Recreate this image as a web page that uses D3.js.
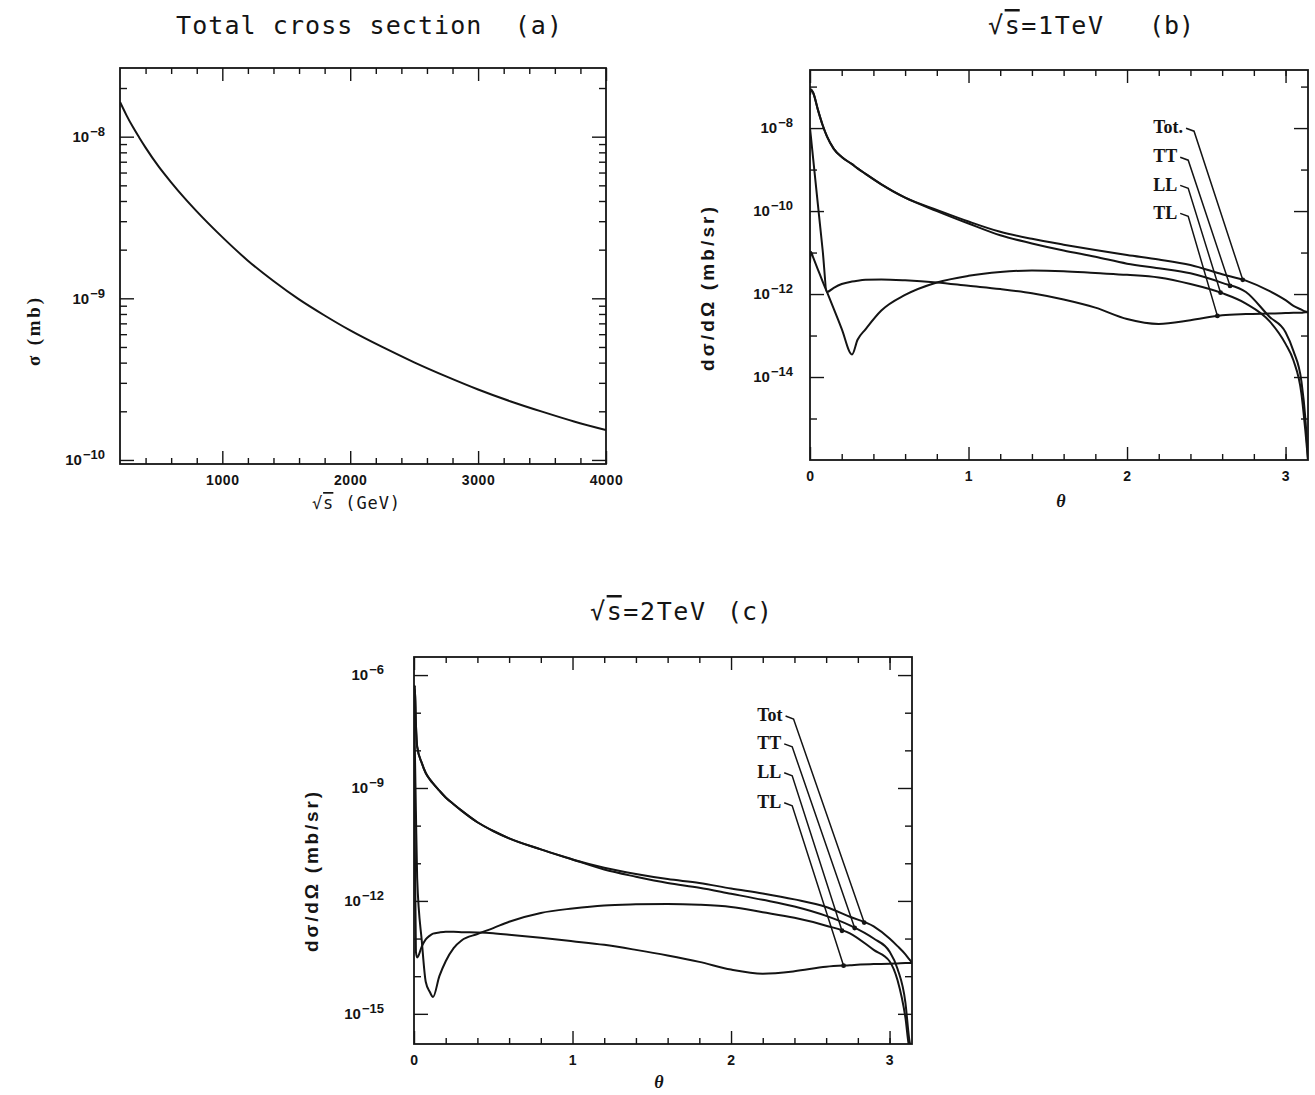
<!DOCTYPE html>
<html>
<head>
<meta charset="utf-8">
<script src="https://cdn.jsdelivr.net/npm/d3@7"></script>
<style>
  body { margin: 0; background: #fff; }
</style>
</head>
<body>
<svg id="fig" width="1315" height="1095"></svg>
<script>
// ---- (a) total cross section vs sqrt(s) ----
const sqrtS = [200, 250, 300, 350, 400, 500, 600, 700, 800, 1000, 1200, 1400, 1600, 1800, 2000, 2250, 2500, 2750, 3000, 3250, 3500, 3750, 4000];
const sigmaTot = [1.64e-8, 1.36e-8, 1.15e-8, 9.89e-9, 8.56e-9, 6.57e-9, 5.22e-9, 4.21e-9, 3.45e-9, 2.39e-9, 1.71e-9, 1.28e-9, 9.85e-10, 7.83e-10, 6.33e-10, 5.00e-10, 4.02e-10, 3.29e-10, 2.73e-10, 2.31e-10, 1.99e-10, 1.73e-10, 1.53e-10];

// ---- (b) dsigma/dOmega at sqrt(s) = 1 TeV ----
const thetaB = [0, 0.005, 0.02, 0.05, 0.08, 0.107, 0.15, 0.2, 0.265, 0.3, 0.35, 0.45, 0.6, 0.8, 1.0, 1.2, 1.4, 1.6, 1.8, 2.0, 2.2, 2.4, 2.6, 2.75, 2.9, 3.0, 3.05, 3.1, 3.125, 3.1416];
const totB = [6.3e-8, 8.5e-8, 7.1e-8, 2.75e-8, 1.17e-8, 6.3e-9, 3.16e-9, 2.0e-9, 1.35e-9, 1.07e-9, 7.9e-10, 4.4e-10, 2.1e-10, 1.07e-10, 5.6e-11, 3.16e-11, 2.14e-11, 1.55e-11, 1.15e-11, 8.7e-12, 6.8e-12, 5.0e-12, 3.0e-12, 2.1e-12, 1.17e-12, 7.1e-13, 5.2e-13, 4.2e-13, 3.8e-13, 3.7e-13];
const ttB = [6.3e-8, 8.5e-8, 7.1e-8, 2.75e-8, 1.17e-8, 6.3e-9, 3.16e-9, 2.0e-9, 1.35e-9, 1.07e-9, 7.9e-10, 4.4e-10, 2.1e-10, 1.0e-10, 5.0e-11, 2.6e-11, 1.66e-11, 1.12e-11, 7.9e-12, 5.4e-12, 4.2e-12, 3.16e-12, 1.86e-12, 1.12e-12, 2.8e-13, 1.2e-13, 4.2e-14, 7.9e-15, 1.0e-15, 1e-16];
const llB = [5.6e-12, 1.05e-11, 7.6e-12, 3.9e-12, 2.0e-12, 1.12e-12, 4.4e-13, 1.45e-13, 3.5e-14, 7.9e-14, 1.41e-13, 4.0e-13, 9.5e-13, 1.9e-12, 2.75e-12, 3.4e-12, 3.7e-12, 3.55e-12, 3.2e-12, 2.9e-12, 2.5e-12, 1.74e-12, 1.05e-12, 5.9e-13, 2.2e-13, 6.3e-14, 2.5e-14, 4.0e-15, 5.0e-16, 1e-16];
const tlB = [1.0e-8, 6.6e-9, 1.82e-9, 1.41e-10, 1.12e-11, 1.12e-12, 1.41e-12, 1.74e-12, 2.0e-12, 2.1e-12, 2.2e-12, 2.24e-12, 2.14e-12, 1.9e-12, 1.58e-12, 1.32e-12, 1.05e-12, 7.4e-13, 4.7e-13, 2.5e-13, 1.9e-13, 2.34e-13, 3.1e-13, 3.3e-13, 3.4e-13, 3.47e-13, 3.55e-13, 3.55e-13, 3.63e-13, 3.63e-13];

// ---- (c) dsigma/dOmega at sqrt(s) = 2 TeV ----
const thetaC = [0, 0.005, 0.012, 0.02, 0.05, 0.074, 0.1, 0.12, 0.16, 0.2, 0.25, 0.3, 0.4, 0.5, 0.6, 0.8, 1.0, 1.2, 1.4, 1.6, 1.8, 2.0, 2.2, 2.4, 2.6, 2.75, 2.9, 3.0, 3.05, 3.1, 3.125, 3.1416];
const totC = [1.26e-7, 5.2e-7, 5.0e-8, 1.26e-8, 4.5e-9, 2.5e-9, 1.7e-9, 1.32e-9, 8.5e-10, 5.6e-10, 3.7e-10, 2.5e-10, 1.23e-10, 7.2e-11, 4.6e-11, 2.34e-11, 1.26e-11, 7.6e-12, 5.2e-12, 3.8e-12, 3.0e-12, 2.14e-12, 1.58e-12, 1.1e-12, 6.9e-13, 3.8e-13, 2.1e-13, 1.0e-13, 6.3e-14, 3.8e-14, 2.8e-14, 2.3e-14];
const ttC = [1.26e-7, 5.2e-7, 5.0e-8, 1.26e-8, 4.5e-9, 2.5e-9, 1.7e-9, 1.32e-9, 8.5e-10, 5.6e-10, 3.7e-10, 2.5e-10, 1.23e-10, 7.2e-11, 4.6e-11, 2.34e-11, 1.26e-11, 6.8e-12, 4.4e-12, 3.0e-12, 2.24e-12, 1.55e-12, 1.07e-12, 7.1e-13, 4.0e-13, 2.24e-13, 1.0e-13, 4.5e-14, 1.58e-14, 2.0e-15, 2.0e-16, 1e-16];
const llC = [1.26e-7, 1.26e-8, 2.5e-10, 4.0e-12, 7.9e-14, 7.1e-15, 3.8e-15, 2.8e-15, 1.0e-14, 2.5e-14, 5.6e-14, 8.9e-14, 1.32e-13, 1.9e-13, 2.8e-13, 4.8e-13, 6.3e-13, 7.6e-13, 8.1e-13, 8.3e-13, 7.9e-13, 6.9e-13, 5.0e-13, 3.55e-13, 2.2e-13, 1.38e-13, 5.0e-14, 2.5e-14, 7.9e-15, 7.9e-16, 1.26e-16, 1e-16];
const tlC = [1.0e-7, 6.3e-11, 4.5e-14, 3.16e-14, 6.3e-14, 9.5e-14, 1.2e-13, 1.35e-13, 1.45e-13, 1.51e-13, 1.51e-13, 1.48e-13, 1.45e-13, 1.38e-13, 1.26e-13, 1.05e-13, 8.5e-14, 6.8e-14, 5.0e-14, 3.55e-14, 2.4e-14, 1.5e-14, 1.17e-14, 1.35e-14, 1.78e-14, 1.95e-14, 2.1e-14, 2.14e-14, 2.19e-14, 2.24e-14, 2.24e-14, 2.24e-14];

// ---- labels / ticks ----
const seriesNamesB = ["Tot.", "TT", "LL", "TL"];
const seriesNamesC = ["Tot", "TT", "LL", "TL"];
const labelLevelB = [1.05e-8, 2.1e-9, 4.4e-10, 9.3e-11];   // where the names sit
const labelLevelC = [8.7e-8, 1.58e-8, 2.7e-9, 4.3e-10];
const pointAtB = [2.73, 2.65, 2.59, 2.57];                // theta where the leader meets its curve
const pointAtC = [2.84, 2.78, 2.70, 2.71];

const sqrtSTicks = [1000, 2000, 3000, 4000];
const sqrtSMinor = [400, 600, 800, 1200, 1400, 1600, 1800, 2200, 2400, 2600, 2800, 3200, 3400, 3600, 3800];
const sigmaTicks = [1e-8, 1e-9, 1e-10];
const thetaTicks = [0, 1, 2, 3];
const thetaMinor = [0.2, 0.4, 0.6, 0.8, 1.2, 1.4, 1.6, 1.8, 2.2, 2.4, 2.6, 2.8, 3.0];
const dsdoTicksB = [1e-8, 1e-10, 1e-12, 1e-14];
const dsdoMinorB = [1e-7, 1e-9, 1e-11, 1e-13, 1e-15];
const dsdoTicksC = [1e-6, 1e-9, 1e-12, 1e-15];
const dsdoMinorC = [1e-7, 1e-8, 1e-10, 1e-11, 1e-13, 1e-14];

const INK = "#141414";
const svg = d3.select("#fig");
const MONO = "DejaVu Sans Mono, monospace";
const SANS = "Liberation Sans, Arial, sans-serif";
const SERIF = "Liberation Serif, Times New Roman, serif";

// minor log ticks 2..9 per decade for panel (a)
let sigmaMinor = [];
[-11, -10, -9, -8].forEach(n => {
  for (let k = 2; k <= 9; k++) sigmaMinor.push(k * Math.pow(10, n));
});

function panelAxes(p) {
  const g = svg.append("g");
  const [xl, xr] = p.x.range();
  const [yb, yt] = p.y.range();

  const add = (axis, tx, ty) => {
    const a = g.append("g").attr("transform", `translate(${tx},${ty})`).call(axis);
    a.select(".domain").remove();
    a.selectAll(".tick line").attr("stroke", INK).attr("stroke-width", 1.4);
    return a;
  };

  add(d3.axisBottom(p.x).tickValues(p.xMinor).tickSize(-6).tickFormat(""), 0, yb);
  const xb = add(d3.axisBottom(p.x).tickValues(p.xMajor).tickSize(-13).tickPadding(11).tickFormat(d3.format("d")), 0, yb);
  xb.selectAll("text").attr("font-family", SANS).attr("font-size", 14).attr("font-weight", "bold")
    .attr("letter-spacing", 0.6).attr("fill", INK);
  add(d3.axisTop(p.x).tickValues(p.xMinor).tickSize(-6).tickFormat(""), 0, yt);
  add(d3.axisTop(p.x).tickValues(p.xMajor).tickSize(-13).tickFormat(""), 0, yt);

  const yMinor = p.yMinor.filter(v => v >= p.y.domain()[0] && v <= p.y.domain()[1]);
  add(d3.axisLeft(p.y).tickValues(yMinor).tickSize(-7).tickFormat(""), xl, 0);
  const yl = add(d3.axisLeft(p.y).tickValues(p.yMajor).tickSize(-14).tickPadding(p.yPad), xl, 0);
  yl.selectAll(".tick text").each(function (d) {
    const e = Math.round(Math.log10(d));
    const t = d3.select(this).text(null)
      .attr("font-family", SANS).attr("font-weight", "bold").attr("fill", INK).attr("font-size", 15);
    t.append("tspan").text("10");
    t.append("tspan").attr("dx", 1).attr("dy", -6).attr("font-size", 13).text("\u2212" + (-e));
  });
  add(d3.axisRight(p.y).tickValues(yMinor).tickSize(-7).tickFormat(""), xr, 0);
  add(d3.axisRight(p.y).tickValues(p.yMajor).tickSize(-14).tickFormat(""), xr, 0);

  g.append("rect").attr("x", xl).attr("y", yt).attr("width", xr - xl).attr("height", yb - yt)
    .attr("fill", "none").attr("stroke", INK).attr("stroke-width", 1.8);

  svg.append("clipPath").attr("id", p.id).append("rect")
    .attr("x", xl).attr("y", yt).attr("width", xr - xl).attr("height", yb - yt);
}

function curve(p, xs, ys) {
  const line = d3.line().x((d, i) => p.x(xs[i])).y(d => p.y(d)).curve(d3.curveMonotoneX);
  svg.append("path").attr("clip-path", `url(#${p.id})`).attr("d", line(ys))
    .attr("fill", "none").attr("stroke", INK).attr("stroke-width", 2).attr("stroke-linejoin", "round");
}

function valueAt(xs, ys, t) {
  const i = Math.min(xs.length - 2, Math.max(0, d3.bisectRight(xs, t) - 1));
  const f = (t - xs[i]) / (xs[i + 1] - xs[i]);
  return Math.pow(10, Math.log10(ys[i]) + f * (Math.log10(ys[i + 1]) - Math.log10(ys[i])));
}

function leaders(p, xs, series, names, levels, at, labelTheta) {
  names.forEach((name, k) => {
    const lx = p.x(labelTheta), ly = p.y(levels[k]);
    const t = svg.append("text").attr("x", lx).attr("y", ly).attr("dy", "0.35em").text(name)
      .attr("font-family", SERIF).attr("font-weight", "bold").attr("font-size", 18).attr("fill", INK);
    const bb = t.node().getBBox();
    const ex = p.x(at[k]), ey = p.y(valueAt(xs, series[k], at[k]));
    const sx = bb.x + bb.width + 3;
    svg.append("path").attr("d", `M${sx},${ly + 1}L${sx + 8},${ly + 4}L${ex},${ey}`)
      .attr("fill", "none").attr("stroke", INK).attr("stroke-width", 1.5);
    svg.append("circle").attr("cx", ex).attr("cy", ey).attr("r", 2.4).attr("fill", INK);
  });
}

function rootS(x, y, rest, size, len) {
  const t = svg.append("text").attr("x", x).attr("y", y).attr("font-family", MONO)
    .attr("font-size", size).attr("fill", INK);
  if (len) t.attr("textLength", len).attr("lengthAdjust", "spacing");
  t.append("tspan").text("\u221A");
  t.append("tspan").style("text-decoration", "overline").text("s");
  t.append("tspan").text(rest);
  return t;
}

// ---------------- panel (a) ----------------
const pA = {
  id: "clipA",
  x: d3.scaleLinear().domain([200, 4000]).range([120, 606]),
  y: d3.scaleLog().domain([9.44e-11, 2.66e-8]).range([464, 68]),
  xMajor: sqrtSTicks, xMinor: sqrtSMinor,
  yMajor: sigmaTicks, yMinor: sigmaMinor, yPad: 15
};
panelAxes(pA);
curve(pA, sqrtS, sigmaTot);

svg.append("text").attr("x", 176).attr("y", 34).attr("font-family", MONO).attr("font-size", 25)
  .attr("fill", INK).attr("textLength", 386).attr("lengthAdjust", "spacing")
  .attr("xml:space", "preserve").text("Total cross section  (a)");
rootS(312, 509, " (GeV)", 17, 88);
svg.append("text").attr("transform", "translate(40,332) rotate(-90)").attr("text-anchor", "middle")
  .attr("font-family", SERIF).attr("font-weight", "bold").attr("font-size", 19).attr("fill", INK)
  .attr("textLength", 68).attr("lengthAdjust", "spacing").text("\u03C3 (mb)");

// ---------------- panel (b) ----------------
const pB = {
  id: "clipB",
  x: d3.scaleLinear().domain([0, Math.PI]).range([810, 1308]),
  y: d3.scaleLog().domain([1e-16, 2.51e-7]).range([460, 70]),
  xMajor: thetaTicks, xMinor: thetaMinor,
  yMajor: dsdoTicksB, yMinor: dsdoMinorB, yPad: 17
};
panelAxes(pB);
[totB, ttB, llB, tlB].forEach(s => curve(pB, thetaB, s));
leaders(pB, thetaB, [totB, ttB, llB, tlB], seriesNamesB, labelLevelB, pointAtB, 2.165);

rootS(988, 34, "=1TeV", 25, 115);
svg.append("text").attr("x", 1149).attr("y", 34).attr("font-family", MONO).attr("font-size", 25)
  .attr("fill", INK).text("(b)");
svg.append("text").attr("x", 1061).attr("y", 507).attr("text-anchor", "middle")
  .attr("font-family", SERIF).attr("font-style", "italic").attr("font-weight", "bold")
  .attr("font-size", 18).attr("fill", INK).text("\u03B8");
svg.append("text").attr("transform", "translate(714,289) rotate(-90)").attr("text-anchor", "middle")
  .attr("font-family", SANS).attr("font-weight", "bold").attr("font-size", 19).attr("fill", INK)
  .attr("textLength", 164).attr("lengthAdjust", "spacing").text("d\u03C3/d\u03A9 (mb/sr)");

// ---------------- panel (c) ----------------
const pC = {
  id: "clipC",
  x: d3.scaleLinear().domain([0, Math.PI]).range([414, 912]),
  y: d3.scaleLog().domain([1.58e-16, 3.02e-6]).range([1044, 657]),
  xMajor: thetaTicks, xMinor: thetaMinor,
  yMajor: dsdoTicksC, yMinor: dsdoMinorC, yPad: 30
};
panelAxes(pC);
[totC, ttC, llC, tlC].forEach(s => curve(pC, thetaC, s));
leaders(pC, thetaC, [totC, ttC, llC, tlC], seriesNamesC, labelLevelC, pointAtC, 2.165);

rootS(590, 620, "=2TeV", 25, 115);
svg.append("text").attr("x", 727).attr("y", 620).attr("font-family", MONO).attr("font-size", 25)
  .attr("fill", INK).text("(c)");
svg.append("text").attr("x", 659).attr("y", 1088).attr("text-anchor", "middle")
  .attr("font-family", SERIF).attr("font-style", "italic").attr("font-weight", "bold")
  .attr("font-size", 18).attr("fill", INK).text("\u03B8");
svg.append("text").attr("transform", "translate(318,872) rotate(-90)").attr("text-anchor", "middle")
  .attr("font-family", SANS).attr("font-weight", "bold").attr("font-size", 19).attr("fill", INK)
  .attr("textLength", 160).attr("lengthAdjust", "spacing").text("d\u03C3/d\u03A9 (mb/sr)");
</script>
</body>
</html>
